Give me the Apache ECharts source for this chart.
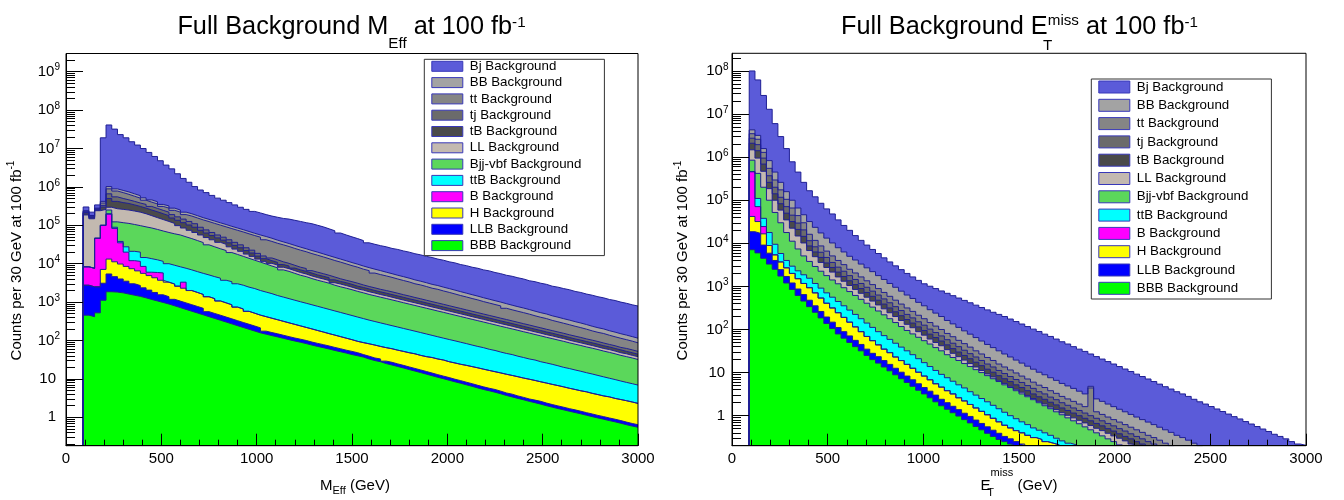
<!DOCTYPE html>
<html><head><meta charset="utf-8">
<script src="https://cdn.jsdelivr.net/npm/echarts@6/dist/echarts.min.js"></script>
<style>html,body{margin:0;padding:0;background:#fff}#c{width:1344px;height:500px}</style>
</head><body><div id="c"></div>
<script>
// Histogram binning (GeV): 30 GeV bins, first bin starts at 90 GeV
const binStart = 90, binWidth = 30;
const seriesNames = ['Bj Background','BB Background','tt Background','tj Background','tB Background','LL Background','Bjj-vbf Background','ttB Background','B Background','H Background','LLB Background','BBB Background'];
// decade tick labels of the log axes
const meffDecades = [1,10,1e2,1e3,1e4,1e5,1e6,1e7,1e8,1e9];
const metDecades = [1,10,1e2,1e3,1e4,1e5,1e6,1e7,1e8];

// ---- Left panel: M_Eff. Stacked totals (top edge of each layer), counts per 30 GeV bin ----
const meffBj = [3.0e5,2.2e5,3.4e5,1.9e7,4.1e7,3.2e7,2.3e7,1.9e7,1.5e7,1.23e7,
1.0e7,7.9e6,6.2e6,4.8e6,3.7e6,2.95e6,2.2e6,1.66e6,1.32e6,1.02e6,
8.3e5,7.1e5,6.0e5,5.1e5,4.5e5,3.9e5,3.4e5,2.95e5,2.6e5,2.3e5,
2.1e5,1.9e5,1.74e5,1.62e5,1.51e5,1.45e5,1.35e5,1.26e5,1.17e5,1.1e5,
1.0e5,9.1e4,8.1e4,7.2e4,6.3e4,5.6e4,5.0e4,4.5e4,4.0e4,3.5e4,
3.2e4,2.95e4,2.75e4,2.5e4,2.35e4,2.15e4,2.0e4,1.82e4,1.7e4,1.55e4,
1.45e4,1.32e4,1.23e4,1.12e4,1.05e4,9.5e3,8.9e3,8.1e3,7.6e3,6.9e3,
6.5e3,5.9e3,5.5e3,5.0e3,4.7e3,4.3e3,4.0e3,3.6e3,3.4e3,3.1e3,
2.9e3,2.6e3,2.45e3,2.25e3,2.1e3,1.9e3,1.78e3,1.62e3,1.51e3,1.38e3,
1.29e3,1.17e3,1.1e3,1.0e3,930,850,790];
const meffBB = [2.4e5,1.8e5,2.8e5,4.2e5,1.02e6,8.9e5,8.1e5,7.4e5,6.6e5,5.9e5,
5.2e5,4.6e5,4.1e5,3.5e5,3.2e5,2.8e5,2.5e5,2.2e5,2.0e5,1.78e5,
1.58e5,1.43e5,1.29e5,1.16e5,1.05e5,9.4e4,8.5e4,7.7e4,6.9e4,6.2e4,
5.6e4,5.1e4,4.6e4,4.1e4,3.7e4,3.35e4,3.0e4,2.7e4,2.45e4,2.2e4,
2.0e4,1.8e4,1.62e4,1.46e4,1.32e4,1.19e4,1.07e4,9.7e3,8.7e3,7.9e3,
7.2e3,6.6e3,6.0e3,5.5e3,5.0e3,4.6e3,4.2e3,3.8e3,3.5e3,3.2e3,
2.9e3,2.7e3,2.45e3,2.25e3,2.05e3,1.87e3,1.71e3,1.56e3,1.43e3,1.3e3,
1.19e3,1.09e3,1.0e3,910,830,760,700,640,580,530,
490,440,405,370,340,310,285,260,235,215,
200,180,165,150,138,126,115];
const meffTt = [2.3e5,1.72e5,2.7e5,3.8e5,8.9e5,7.8e5,7.1e5,6.4e5,5.7e5,5.1e5,
4.5e5,4.0e5,3.6e5,3.1e5,2.8e5,2.45e5,2.2e5,1.9e5,1.74e5,1.55e5,
1.38e5,1.25e5,1.12e5,1.01e5,9.1e4,8.2e4,7.4e4,6.7e4,6.0e4,5.4e4,
4.9e4,4.2e4,3.8e4,3.4e4,3.1e4,2.8e4,2.5e4,2.25e4,2.05e4,1.83e4,
1.66e4,1.5e4,1.35e4,1.21e4,1.1e4,9.9e3,8.9e3,8.1e3,7.2e3,6.6e3,
5.7e3,5.2e3,4.8e3,4.4e3,4.0e3,3.65e3,3.35e3,3.0e3,2.8e3,2.55e3,
2.3e3,2.15e3,1.95e3,1.79e3,1.63e3,1.48e3,1.36e3,1.24e3,1.14e3,1.03e3,
945,865,795,690,630,577,531,486,440,402,
372,334,307,281,258,235,216,197,178,163,
152,137,125,114,105,96,87];
const meffTj = [2.15e5,1.66e5,2.6e5,3.3e5,6.6e5,5.5e5,5.0e5,4.6e5,4.2e5,3.8e5,
3.5e5,3.1e5,2.75e5,2.45e5,2.2e5,1.9e5,1.66e5,1.45e5,1.26e5,1.1e5,
8.9e4,7.6e4,6.5e4,5.6e4,4.9e4,4.2e4,3.6e4,3.1e4,2.6e4,2.25e4,
1.86e4,1.59e4,1.41e4,1.26e4,1.12e4,1.02e4,9.1e3,8.1e3,7.5e3,6.6e3,
6.0e3,5.5e3,5.0e3,4.5e3,4.05e3,3.7e3,3.4e3,3.1e3,2.8e3,2.55e3,
2.35e3,2.15e3,2.0e3,1.85e3,1.7e3,1.56e3,1.44e3,1.32e3,1.22e3,1.12e3,
1.03e3,950,875,805,740,682,627,577,531,489,
450,415,381,352,324,298,274,253,232,214,
196,181,167,154,141,130,120,110,102,94,
86,79,73,66,62,57,52];
const meffTB = [2.1e5,1.58e5,2.5e5,3.0e5,5.0e5,4.2e5,3.9e5,3.7e5,3.4e5,3.1e5,
2.8e5,2.5e5,2.25e5,2.0e5,1.78e5,1.55e5,1.35e5,1.17e5,1.02e5,8.9e4,
7.4e4,6.3e4,5.4e4,4.7e4,4.1e4,3.5e4,3.0e4,2.6e4,2.2e4,1.9e4,
1.58e4,1.35e4,1.2e4,1.08e4,9.5e3,8.7e3,7.7e3,6.9e3,6.3e3,5.7e3,
5.1e3,4.7e3,4.3e3,3.8e3,3.45e3,3.2e3,2.9e3,2.6e3,2.4e3,2.2e3,
2.0e3,1.85e3,1.71e3,1.57e3,1.45e3,1.33e3,1.22e3,1.13e3,1.04e3,955,
879,809,745,686,631,581,534,491,453,417,
384,353,324,299,276,254,233,215,197,182,
167,155,142,131,120,110,102,94,87,80,
73,68,62,57,52,48,44];
const meffLL = [1.86e5,1.48e5,2.4e5,2.6e5,2.95e5,2.7e5,2.6e5,2.5e5,2.35e5,2.2e5,
2.0e5,1.78e5,1.58e5,1.41e5,1.26e5,1.12e5,9.8e4,8.5e4,7.4e4,6.5e4,
5.6e4,4.8e4,4.2e4,3.6e4,3.2e4,2.75e4,2.4e4,2.1e4,1.78e4,1.55e4,
1.32e4,1.15e4,1.02e4,9.2e3,8.1e3,7.4e3,6.6e3,5.9e3,5.4e3,4.8e3,
4.35e3,4.0e3,3.65e3,3.2e3,2.95e3,2.7e3,2.45e3,2.2e3,2.05e3,1.86e3,
1.72e3,1.57e3,1.46e3,1.34e3,1.23e3,1.13e3,1.04e3,960,884,813,
748,689,634,584,537,495,455,418,385,355,
327,301,276,255,235,216,199,183,168,155,
142,132,121,112,102,94,87,80,74,68,
62,58,53,48,45,41,38];
const meffBjjVbf = [8.3e3,7.6e3,4.6e4,1.0e5,2.5e5,1.23e5,1.17e5,1.12e5,1.05e5,9.8e4,
9.1e4,8.5e4,7.8e4,7.1e4,6.5e4,6.0e4,5.6e4,5.0e4,4.5e4,4.0e4,
3.55e4,3.1e4,2.75e4,2.45e4,2.2e4,1.95e4,1.74e4,1.55e4,1.38e4,1.23e4,
1.1e4,9.8e3,8.7e3,7.8e3,6.9e3,6.3e3,5.6e3,5.0e3,4.6e3,4.1e3,
3.7e3,3.4e3,3.1e3,2.75e3,2.5e3,2.3e3,2.1e3,1.9e3,1.74e3,1.58e3,
1.46e3,1.34e3,1.24e3,1.14e3,1.05e3,964,887,817,752,692,
637,586,540,497,457,421,387,356,328,302,
278,256,235,217,200,184,169,156,143,132,
121,112,103,95,87,80,74,68,63,58,
53,49,45,41,38,35,32];
const meffTtB = [8.3e3,7.6e3,4.6e4,1.0e5,2.0e5,8.9e4,3.8e4,2.75e4,2.1e4,2.0e4,
1.45e4,1.35e4,1.26e4,1.15e4,1.0e4,9.1e3,8.3e3,7.6e3,6.9e3,6.2e3,
5.6e3,5.1e3,4.6e3,4.2e3,3.7e3,3.4e3,3.0e3,2.75e3,2.45e3,2.25e3,
2.0e3,1.82e3,1.66e3,1.48e3,1.35e3,1.23e3,1.12e3,1.02e3,933,851,
776,708,646,589,537,490,447,407,372,339,
312,287,264,243,224,206,190,175,161,148,
136,125,115,106,98,90,83,76,70,65,
59,55,50,46,43,39,36,33,31,28,
26,24,22,20,18.6,17.1,15.8,14.5,13.4,12.3,
11.3,10.4,9.6,8.8,8.1,7.5,6.9];
const meffB = [8.3e3,7.6e3,4.6e4,1.0e5,1.95e5,8.3e4,3.5e4,2.0e4,1.2e4,1.15e4,
8.5e3,6.0e3,5.9e3,5.75e3,3.3e3,2.95e3,2.6e3,3.3e3,2.0e3,1.78e3,
1.58e3,1.38e3,1.23e3,1.07e3,955,851,741,661,575,513,
457,417,380,347,316,288,263,240,219,200,
182,166,151,138,126,115,105,95,88,82,
76,70,65,61,56,52,48,45,41,38,
36,33,31,28,26,24,22.5,20.9,19.4,17.9,
16.6,15.4,14.3,13.2,12.3,11.4,10.5,9.8,9.1,8.4,
7.8,7.2,6.7,6.2,5.7,5.3,4.9,4.6,4.2,3.9,
3.6,3.4,3.1,2.9,2.7,2.5,2.3];
const meffH = [2.75e3,2.5e3,2.5e3,7.1e3,1.32e4,1.12e4,9.8e3,8.5e3,7.4e3,6.5e3,
5.6e3,4.9e3,4.3e3,3.7e3,3.3e3,2.95e3,2.6e3,2.3e3,2.0e3,1.78e3,
1.58e3,1.38e3,1.23e3,1.07e3,955,851,741,661,575,513,
457,417,380,347,316,288,263,240,219,200,
182,166,151,138,126,115,105,95,88,82,
76,70,65,61,56,52,48,45,41,38,
36,33,31,28,26,24,22.5,20.9,19.4,17.9,
16.6,15.4,14.3,13.2,12.3,11.4,10.5,9.8,9.1,8.4,
7.8,7.2,6.7,6.2,5.7,5.3,4.9,4.6,4.2,3.9,
3.6,3.4,3.1,2.9,2.7,2.5,2.3];
const meffLLB = [2.75e3,2.5e3,2.5e3,3.1e3,5.4e3,4.6e3,4.0e3,3.5e3,3.0e3,2.7e3,
2.35e3,2.05e3,1.78e3,1.55e3,1.38e3,1.18e3,1.06e3,953,855,768,
690,564,506,455,408,366,328,294,265,238,
213,175,161,149,137,126,116,108,100,91,
84,78,72,66,61,56,52,48,43,39,
35,33,29,27,24.6,22.5,20.5,18.7,17.1,15.6,
14.2,12.9,11.8,10.8,9.8,9.0,8.2,7.5,6.8,6.2,
5.7,5.3,4.8,4.3,4.0,3.6,3.3,3.0,2.8,2.6,
2.35,2.15,1.98,1.83,1.68,1.56,1.44,1.32,1.22,1.12,
1.04,0.96,0.89,0.82,0.75,0.69,0.64];
const meffBBB = [457,417,525,1.12e3,1.86e3,1.82e3,1.74e3,1.62e3,1.51e3,1.41e3,
1.29e3,1.17e3,1.07e3,977,891,800,718,644,578,519,
466,418,375,337,302,271,243,218,196,176,
158,146,134,124,114,105,97,90,83,76,
70,65,60,55,51,47,43,40,37,33,
30,28,25,23,21,19.2,17.5,16,14.6,13.3,
12.1,11.0,10.1,9.2,8.4,7.7,7.0,6.4,5.8,5.3,
4.9,4.5,4.1,3.7,3.4,3.1,2.85,2.6,2.4,2.2,
2.0,1.84,1.69,1.56,1.44,1.33,1.23,1.13,1.04,0.96,
0.89,0.82,0.76,0.70,0.64,0.59,0.55];

// ---- Right panel: E_T^miss. Stacked totals (top edge of each layer), counts per 30 GeV bin ----
const metBj = [1.0e8,6.2e7,2.7e7,1.29e7,6.0e6,3.0e6,1.58e6,7.8e5,4.5e5,2.6e5,
1.66e5,1.2e5,8.5e4,6.3e4,4.8e4,3.5e4,2.6e4,2.0e4,1.51e4,1.17e4,
9.1e3,7.2e3,5.8e3,4.6e3,3.7e3,3.0e3,2.45e3,2.0e3,1.66e3,1.38e3,
1.15e3,1.01e3,891,785,692,610,537,473,417,367,
324,285,251,224,200,175,153,134,117,102,
90,78,69,60,52,46,40,35,31,27,
23.5,20.6,18.0,15.8,13.8,12.1,10.6,9.2,8.1,7.1,
6.2,5.4,4.7,4.15,3.6,3.2,2.8,2.4,2.1,1.86,
1.63,1.43,1.25,1.09,0.95,0.84,0.73,0.64,0.56,0.49,
0.43,0.37,0.33,0.29,0.25,0.22,0.205];
const metBB = [4.3e6,3.2e6,1.58e6,8.3e5,4.5e5,2.6e5,1.58e5,1.0e5,6.6e4,4.6e4,
3.2e4,2.35e4,1.74e4,1.32e4,1.02e4,7.9e3,6.3e3,5.0e3,4.1e3,3.3e3,
2.7e3,2.2e3,1.78e3,1.45e3,1.17e3,955,776,631,525,427,
355,288,240,200,162,135,112,93,78,65,
54,45,38,32,27,23,19.5,16.6,14.1,12.0,
10.2,8.9,7.6,6.6,5.6,4.9,4.3,3.7,3.2,4.8,
2.45,2.15,1.86,1.62,1.41,1.23,1.07,0.93,0.81,0.71,
0.62,0.54,0.47,0.41,0.35,0.31,0.27,0.23,0.20];
const metTt = [3.5e6,2.6e6,1.29e6,5.5e5,2.95e5,1.74e5,1.05e5,6.6e4,4.4e4,3.0e4,
1.62e4,1.17e4,8.7e3,6.6e3,5.1e3,4.0e3,3.2e3,2.5e3,2.05e3,1.66e3,
1.35e3,1.1e3,891,724,589,479,389,316,263,214,
178,145,120,100,81,68,56,47,39,32,
27,22.4,19.1,15.8,13.5,11.5,9.8,8.3,7.1,6.0,
5.1,4.5,3.8,3.3,2.8,2.45,2.15,1.86,1.62,4.4,
1.23,1.07,0.93,0.81,0.71,0.62,0.54,0.47,0.41,0.35,
0.31,0.27,0.23,0.20];
const metTj = [2.75e6,1.95e6,9.5e5,3.7e5,2.0e5,1.17e5,7.1e4,4.5e4,2.95e4,2.05e4,
1.15e4,8.3e3,6.2e3,4.7e3,3.6e3,2.8e3,2.25e3,1.78e3,1.45e3,1.17e3,
955,776,631,513,417,339,275,224,186,151,
126,102,85,71,58,48,40,33,27.5,23,
19.1,15.8,13.5,11.2,9.5,8.1,6.9,5.9,5.0,4.3,
3.6,3.2,2.7,2.35,2.0,1.74,1.51,1.32,1.15,1.0,
0.87,0.76,0.66,0.58,0.50,0.44,0.38,0.33,0.29,0.25,
0.22];
const metTB = [2.1e6,1.41e6,6.9e5,2.6e5,1.41e5,8.3e4,5.0e4,3.2e4,2.1e4,1.45e4,
8.7e3,6.3e3,4.7e3,3.5e3,2.75e3,2.15e3,1.7e3,1.35e3,1.1e3,891,
724,589,479,389,316,257,209,170,141,115,
95,78,65,54,44,36,30,25,21,17.4,
14.5,12.0,10.2,8.5,7.2,6.2,5.2,4.5,3.8,3.2,
2.75,2.4,2.05,1.78,1.51,1.32,1.15,1.0,0.87,0.76,
0.66,0.58,0.50,0.44,0.38,0.33,0.29,0.25,0.22];
const metLL = [1.48e6,9.5e5,4.7e5,1.86e5,1.0e5,5.9e4,3.5e4,2.25e4,1.48e4,1.02e4,
6.8e3,4.9e3,3.6e3,2.75e3,2.15e3,1.66e3,1.32e3,1.05e3,851,692,
562,457,372,302,245,200,162,132,110,89,
74,60,50,42,34,28,23.4,19.5,16.2,13.5,
11.2,9.3,7.9,6.6,5.6,4.8,4.1,3.5,2.95,2.5,
2.15,1.86,1.58,1.38,1.17,1.02,0.89,0.78,0.68,0.59,
0.51,0.45,0.39,0.34,0.30,0.26,0.22];
const metBjjVbf = [8.5e5,4.2e5,2.0e5,1.0e5,5.2e4,3.0e4,1.78e4,1.12e4,7.4e3,5.1e3,
3.8e3,2.9e3,2.25e3,1.78e3,1.41e3,1.15e3,933,759,617,501,
407,331,269,219,178,145,117,95,79,66,
55,46,38,32,26,22.4,19.1,16.2,13.8,11.7,
10.0,8.5,7.2,6.2,5.2,4.5,3.8,3.2,2.75,2.35,
2.0,1.7,1.45,1.23,1.05,0.89,0.76,0.65,0.55,0.47,
0.40,0.34,0.29,0.25,0.21];
const metTtB = [4.6e5,1.1e5,3.8e4,1.78e4,9.5e3,5.8e3,4.0e3,2.95e3,2.3e3,1.86e3,
1.55e3,1.17e3,912,708,562,447,355,282,224,178,
141,112,89,72,59,48,39,32,26,21,
17,13.8,11.2,9.1,7.6,6.3,5.2,4.4,3.6,3.0,
2.5,2.1,1.74,1.45,1.2,1.0,0.85,0.72,0.62,0.52,
0.46,0.40,0.35,0.30,0.26,0.23,0.21];
const metB = [4.6e5,7.1e4,2.45e4,8.9e3,5.4e3,3.7e3,2.7e3,2.0e3,1.51e3,1.17e3,
933,708,537,407,316,245,191,148,115,89,
69,55,44,35,29,23,19,15.5,12.6,10.2,
8.3,6.8,5.5,4.6,3.8,3.2,2.6,2.2,1.82,1.51,
1.26,1.05,0.87,0.72,0.60,0.52,0.45,0.40,0.35,0.31,
0.28,0.25,0.23,0.21];
const metH = [4.2e4,3.2e4,1.66e4,8.9e3,5.4e3,3.7e3,2.7e3,2.0e3,1.51e3,1.17e3,
933,708,537,407,316,245,191,148,115,89,
69,55,44,35,29,23,19,15.5,12.6,10.2,
8.3,6.8,5.5,4.6,3.8,3.2,2.6,2.2,1.82,1.51,
1.26,1.05,0.87,0.72,0.60,0.52,0.45,0.40,0.35,0.31,
0.28,0.25,0.23,0.21];
const metLLB = [1.86e4,1.7e4,9.1e3,5.9e3,4.0e3,2.45e3,1.7e3,1.2e3,870,645,
478,354,262,195,148,111,89,71,56,45,
35,28,23.4,19,15.5,12.6,10.2,8.3,6.8,5.5,
4.5,3.7,3.0,2.4,2.0,1.65,1.38,1.14,0.96,0.79,
0.66,0.55,0.46,0.39,0.33,0.29,0.25,0.22];
const metBBB = [7.1e3,6.0e3,4.5e3,3.3e3,2.5e3,1.74e3,1.2e3,851,617,457,
339,251,186,138,105,79,63,50,40,32,
25,20,16.6,13.5,11.0,8.9,7.2,5.9,4.8,3.9,
3.2,2.6,2.1,1.7,1.41,1.17,0.98,0.81,0.68,0.56,
0.47,0.39,0.33,0.28,0.25,0.22];

// ---- styling ----
const FONT = '"Liberation Sans", Arial, Helvetica, sans-serif';
const fills = ['#5b5bd9','#a3a3a3','#858585','#6b6b6b','#4a4a4a','#c3b9b0','#5bd75b','#00ffff','#ff00ff','#ffff00','#0000ff','#00ff00'];
const outline = '#1f1f94';
const yMin = [0.182, 0.201], yMax = [2.98e9, 2.57e8];
const decades = [meffDecades, metDecades];

const panels = [
  [meffBj, meffBB, meffTt, meffTj, meffTB, meffLL, meffBjjVbf, meffTtB, meffB, meffH, meffLLB, meffBBB],
  [metBj, metBB, metTt, metTj, metTB, metLL, metBjjVbf, metTtB, metB, metH, metLLB, metBBB]
];

function stepData(vals, floor) {
  const d = [[binStart, floor]];
  vals.forEach((v, i) => d.push([binStart + i * binWidth, v]));
  const end = binStart + vals.length * binWidth;
  d.push([end, vals[vals.length - 1]]);
  if (end < 3000) d.push([end, floor]);
  return d;
}

const series = [];
panels.forEach((sets, p) => sets.forEach((vals, i) => {
  series.push({
    type: 'line', name: seriesNames[i], xAxisIndex: p, yAxisIndex: p,
    data: stepData(vals, yMin[p]), step: 'end', symbol: 'none', showSymbol: false,
    lineStyle: { color: outline, width: 1 },
    itemStyle: { color: fills[i] },
    areaStyle: { color: fills[i], opacity: 1, origin: 'start' },
    emphasis: { disabled: true }, silent: true, clip: true, z: 2
  });
}));

function logLabel(v) {
  const e = Math.round(Math.log10(v));
  if (e === 0) return '{n|1}';
  if (e === 1) return '{n|10}';
  return '{b|10}{s|' + e + '}';
}
// minor tick positions 2..9 x 10^k inside each axis range
function minorTickValues(p) {
  const out = [];
  for (let e = -1; e <= 9; e++) for (let m = 2; m <= 9; m++) {
    const v = m * Math.pow(10, e);
    if (v > yMin[p] && v < yMax[p]) out.push(v);
  }
  return out;
}

const grids = [
  { left: 66, top: 53.5, width: 572, height: 392.2 },
  { left: 732, top: 53.3, width: 574, height: 392.4 }
].map(g => Object.assign(g, { show: true, borderColor: '#000', borderWidth: 1, backgroundColor: 'rgba(0,0,0,0)', z: 10 }));

const xAxes = [0, 1].map(p => ({
  type: 'value', gridIndex: p, min: 0, max: 3000, interval: 500, z: 10,
  axisLine: { show: true, onZero: false, lineStyle: { color: '#000', width: 1 } },
  axisTick: { show: true, inside: true, length: 12, lineStyle: { color: '#000' } },
  minorTick: { show: true, splitNumber: 5, length: 6, lineStyle: { color: '#000' } },
  splitLine: { show: false },
  axisLabel: { color: '#000', fontSize: 15, fontFamily: FONT, margin: 6, formatter: v => String(v) }
}));

const yMain = [0, 1].map(p => ({
  type: 'log', logBase: 10, gridIndex: p, min: yMin[p], max: yMax[p], z: 10,
  axisLine: { show: true, onZero: false, lineStyle: { color: '#000', width: 1 } },
  axisTick: { show: true, inside: true, length: 17, customValues: decades[p], lineStyle: { color: '#000' } },
  minorTick: { show: false },
  splitLine: { show: false },
  axisLabel: {
    customValues: decades[p], formatter: logLabel, margin: p === 0 ? 6 : 3.5, color: '#000',
    rich: {
      b: { fontSize: 15, fontFamily: FONT, color: '#000', lineHeight: 18 },
      s: { fontSize: 10, fontFamily: FONT, color: '#000', lineHeight: 8, verticalAlign: 'top' },
      n: { fontSize: 15, fontFamily: FONT, color: '#000', lineHeight: 18, padding: [0, p === 0 ? 4 : 3.4, 0, 0] }
    }
  }
}));
const yMinor = [0, 1].map(p => ({
  type: 'log', logBase: 10, gridIndex: p, min: yMin[p], max: yMax[p], z: 10, position: 'left',
  axisLine: { show: false },
  axisTick: { show: true, inside: true, length: 9, customValues: minorTickValues(p), lineStyle: { color: '#000' } },
  axisLabel: { show: false }, splitLine: { show: false }
}));

const legendBase = {
  data: seriesNames, orient: 'vertical', icon: 'rect', itemWidth: 31,
  borderColor: '#333', borderWidth: 1, backgroundColor: '#fff', selectedMode: false,
  itemStyle: { borderColor: '#3838b8', borderWidth: 1 },
  textStyle: { fontSize: 13.3, fontFamily: FONT, color: '#000', lineHeight: 14, padding: [0, 0, 0, 2] }
};
const legends = [
  Object.assign({}, legendBase, { left: 424.3, top: 59.3, itemHeight: 10, itemGap: 2.3, padding: [0, 23, 3, 7] }),
  Object.assign({}, legendBase, { left: 1091.3, top: 79, itemHeight: 12, itemGap: 4.3, padding: [1, 23, 3.7, 7] })
];

// rich text: tokens keep verticalAlign middle; padding (top - bottom)/2 shifts them down/up
const tok = (fs, padTop, padBottom, extra) => Object.assign({
  fontSize: fs, fontFamily: FONT, fill: '#000', padding: [padTop, 0, padBottom, 0]
}, extra || {});
const T = (x, y, text, fontSize, rich, extra) => Object.assign({
  type: 'text', x: x, y: y, silent: true,
  style: { text: text, fontSize: fontSize, fontFamily: FONT, fill: '#000', lineHeight: 64,
           align: 'center', verticalAlign: 'middle', rich: rich }
}, extra || {});
const graphics = [
  T(351.5, 27.5, 'Full Background M{sub|Eff} at 100 fb{sup|-1}', 25.3,
    { sub: tok(15.2, 33, 0), sup: tok(15.2, 0, 10) }),
  T(1019.5, 27.5, 'Full Background E{subz|T}{supm|miss} at 100 fb{sup|-1}', 25.3,
    { subz: tok(15.2, 36, 0, { width: 0 }), supm: tok(15.2, 0, 13.5), sup: tok(15.2, 0, 10) }),
  T(355, 485.4, 'M{sub|Eff} (GeV)', 15, { sub: tok(11, 12, 0) }),
  T(1019, 485.4, 'E{subz|T}{supm|miss} (GeV)', 15,
    { subz: tok(11, 15, 0, { width: 0 }), supm: tok(11, 0, 25) }),
  T(16.5, 260.5, 'Counts per 30 GeV at 100 fb{sup|-1}', 15, { sup: tok(10, 0, 10) }, { rotation: Math.PI / 2 }),
  T(683, 260.5, 'Counts per 30 GeV at 100 fb{sup|-1}', 15, { sup: tok(10, 0, 10) }, { rotation: Math.PI / 2 })
];

const chart = echarts.init(document.getElementById('c'), null, { renderer: 'canvas' });
chart.setOption({
  animation: false,
  backgroundColor: '#fff',
  textStyle: { fontFamily: FONT },
  grid: grids, xAxis: xAxes, yAxis: yMain.concat(yMinor), legend: legends, series: series,
  graphic: graphics
});
</script>
</body></html>
